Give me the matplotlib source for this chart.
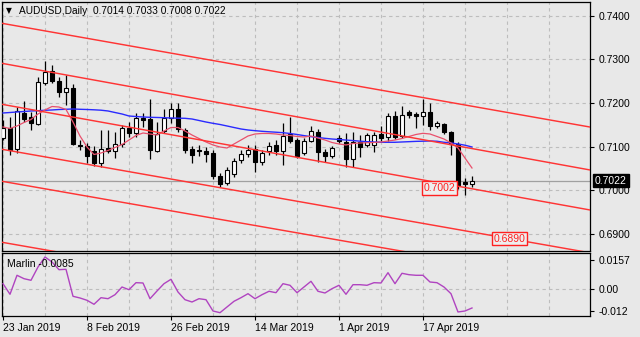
import matplotlib
matplotlib.use('Agg')
import matplotlib.pyplot as plt
import numpy as np
from matplotlib.transforms import blended_transform_factory

plt.rcParams['font.family'] = ['Liberation Sans', 'DejaVu Sans']

# ---- data ----
opens = [0.7119, 0.7144, 0.7094, 0.7177, 0.7167, 0.7152, 0.7245, 0.7274, 0.7251, 0.7225,
         0.7234, 0.7104, 0.7102, 0.7090, 0.7063, 0.7096, 0.7090, 0.7106, 0.7142, 0.7131,
         0.7166, 0.7163, 0.7091, 0.7137, 0.7166, 0.7186, 0.7138, 0.7094, 0.7092, 0.7090,
         0.7085, 0.7033, 0.7016, 0.7037, 0.7069, 0.7083, 0.7095, 0.7066, 0.7089, 0.7104,
         0.7089, 0.7128, 0.7115, 0.7085, 0.7113, 0.7134, 0.7088, 0.7079, 0.7121, 0.7110,
         0.7072, 0.7110, 0.7105, 0.7105, 0.7129, 0.7123, 0.7171, 0.7125, 0.7180, 0.7174,
         0.7171, 0.7179, 0.7148, 0.7151, 0.7134, 0.7106, 0.7020, 0.7014]
highs = [0.7161, 0.7167, 0.7192, 0.7205, 0.7180, 0.7259, 0.7297, 0.7287, 0.7259, 0.7265,
         0.7244, 0.7115, 0.7108, 0.7102, 0.7138, 0.7138, 0.7134, 0.7150, 0.7157, 0.7178,
         0.7177, 0.7209, 0.7157, 0.7186, 0.7200, 0.7200, 0.7142, 0.7102, 0.7103, 0.7100,
         0.7092, 0.7039, 0.7054, 0.7073, 0.7092, 0.7104, 0.7104, 0.7092, 0.7111, 0.7115,
         0.7154, 0.7169, 0.7121, 0.7119, 0.7148, 0.7140, 0.7095, 0.7102, 0.7127, 0.7131,
         0.7133, 0.7127, 0.7131, 0.7133, 0.7148, 0.7177, 0.7182, 0.7194, 0.7184, 0.7180,
         0.7209, 0.7200, 0.7159, 0.7155, 0.7136, 0.7110, 0.7028, 0.7033]
lows = [0.7115, 0.7081, 0.7085, 0.7157, 0.7138, 0.7150, 0.7242, 0.7245, 0.7215, 0.7196,
        0.7104, 0.7092, 0.7063, 0.7056, 0.7054, 0.7085, 0.7073, 0.7099, 0.7123, 0.7123,
        0.7146, 0.7071, 0.7088, 0.7131, 0.7155, 0.7133, 0.7085, 0.7063, 0.7079, 0.7065,
        0.7026, 0.7008, 0.7012, 0.7031, 0.7063, 0.7077, 0.7041, 0.7058, 0.7081, 0.7081,
        0.7058, 0.7108, 0.7073, 0.7081, 0.7111, 0.7064, 0.7064, 0.7075, 0.7108, 0.7054,
        0.7054, 0.7077, 0.7100, 0.7088, 0.7113, 0.7112, 0.7118, 0.7121, 0.7165, 0.7142,
        0.7150, 0.7138, 0.7144, 0.7128, 0.7081, 0.7004, 0.6990, 0.7008]
closes = [0.7144, 0.7092, 0.7182, 0.7164, 0.7155, 0.7248, 0.7272, 0.7251, 0.7226, 0.7235,
          0.7106, 0.7102, 0.7079, 0.7063, 0.7094, 0.7089, 0.7106, 0.7142, 0.7131, 0.7165,
          0.7162, 0.7092, 0.7128, 0.7166, 0.7186, 0.7141, 0.7092, 0.7081, 0.7091, 0.7083,
          0.7033, 0.7014, 0.7047, 0.7067, 0.7083, 0.7092, 0.7066, 0.7085, 0.7102, 0.7089,
          0.7125, 0.7113, 0.7079, 0.7113, 0.7136, 0.7087, 0.7079, 0.7096, 0.7113, 0.7072,
          0.7110, 0.7100, 0.7127, 0.7127, 0.7121, 0.7171, 0.7123, 0.7173, 0.7173, 0.7171,
          0.7179, 0.7148, 0.7154, 0.7134, 0.7106, 0.7012, 0.7014, 0.7022]

ma_blue = [0.71773, 0.71784, 0.71796, 0.71807, 0.71819, 0.71826, 0.71835, 0.71842, 0.71853, 0.71858,
           0.71865, 0.71858, 0.71853, 0.71846, 0.71837, 0.71819, 0.71784, 0.71750, 0.71704, 0.71692,
           0.71681, 0.71674, 0.71670, 0.71665, 0.71658, 0.71654, 0.71651, 0.71635, 0.71601, 0.71566,
           0.71536, 0.71509, 0.71475, 0.71440, 0.71406, 0.71383, 0.71367, 0.71353, 0.71342, 0.71332,
           0.71321, 0.71303, 0.71280, 0.71254, 0.71229, 0.71211, 0.71192, 0.71176, 0.71165, 0.71153,
           0.71140, 0.71126, 0.71115, 0.71108, 0.71101, 0.71101, 0.71101, 0.71108, 0.71115, 0.71122,
           0.71126, 0.71131, 0.71124, 0.71101, 0.71085, 0.71062, 0.71034, 0.70993]
ma_red = [0.71452, 0.71417, 0.71475, 0.71555, 0.71624, 0.71750, 0.71842, 0.71922, 0.71910, 0.71853,
          0.71566, 0.71245, 0.70993, 0.70821, 0.70855, 0.70913, 0.70981, 0.71050, 0.71153, 0.71257,
          0.71314, 0.71291, 0.71268, 0.71360, 0.71440, 0.71440, 0.71360, 0.71268, 0.71188, 0.71108,
          0.71039, 0.70993, 0.70970, 0.71062, 0.71153, 0.71245, 0.71291, 0.71303, 0.71303, 0.71291,
          0.71268, 0.71257, 0.71234, 0.71222, 0.71245, 0.71199, 0.71153, 0.71096, 0.71062, 0.71039,
          0.71073, 0.71085, 0.71091, 0.71096, 0.71108, 0.71130, 0.71153, 0.71188, 0.71234, 0.71280,
          0.71307, 0.71291, 0.71234, 0.71176, 0.71085, 0.70970, 0.70740, 0.70511]
marlin = [0.00269, -0.00301, 0.00721, 0.00538, 0.00452, 0.01167, 0.01705, 0.01436, 0.01022, 0.01044,
          -0.00409, -0.00500, -0.00624, -0.00839, -0.00484, -0.00538, -0.00323, 0.00091, -0.00054, 0.00323,
          0.00307, -0.00538, -0.00124, 0.00269, 0.00506, -0.00178, -0.00592, -0.00716, -0.00538, -0.00592,
          -0.01200, -0.01291, -0.00984, -0.00678, -0.00484, -0.00269, -0.00538, -0.00323, -0.00140, -0.00215,
          0.00269, 0.00183, -0.00215, 0.00091, 0.00398, -0.00140, -0.00231, 0.00000, 0.00183, -0.00301,
          0.00215, 0.00215, 0.00183, 0.00323, 0.00307, 0.00861, 0.00269, 0.00828, 0.00753, 0.00721,
          0.00721, 0.00360, 0.00323, 0.00091, -0.00269, -0.01253, -0.01200, -0.01038]

date_labels = ['23 Jan 2019', '8 Feb 2019', '26 Feb 2019', '14 Mar 2019', '1 Apr 2019', '17 Apr 2019']
date_label_bars = [0, 12, 24, 36, 48, 60]

# channel lines: price at bar 0 and at bar 83
channel_bars = [0, 83]
channel_start = [0.73826, 0.72908, 0.71968, 0.70936, 0.70202, 0.68803]
channel_end = [0.71475, 0.70491, 0.69573, 0.68590, 0.67874, 0.66475]

price_ticks = [0.69, 0.70, 0.71, 0.72, 0.73, 0.74]
marlin_ticks = [0.0157, 0.0, -0.012]
marlin_tick_labels = ['0.0157', '0.00', '-0.012']
last_price = 0.7022
ohlc_title = 'AUDUSD,Daily  0.7014 0.7033 0.7008 0.7022'
marlin_title = 'Marlin -0.0085'
level_labels = ['0.7002', '0.6890']
level_prices = [0.7005, 0.6889]
level_bars = [64.6, 70.1]

# ---- figure ----
BG = '#e8e8e8'
W, H = 640, 337
fig = plt.figure(figsize=(W / 100, H / 100), dpi=100, facecolor=BG)
ax = fig.add_axes([2 / W, 1 - 251 / H, 588 / W, 249 / H], facecolor=BG)
axm = fig.add_axes([2 / W, 1 - 316 / H, 588 / W, 63 / H], facecolor=BG)

xlim = (-0.143, 83.86)
ax.set_xlim(*xlim)
ax.set_ylim(0.68607, 0.74319)
axm.set_xlim(*xlim)
axm.set_ylim(-0.01469, 0.0192)

grid_kw = dict(color='#bdbdbd', lw=0.8, linestyle=(0, (3, 3)), zorder=0)
n = len(closes)
xs = np.arange(n)
for b in range(0, int(xlim[1]) + 1, 6):
    ax.axvline(b, **grid_kw)
    axm.axvline(b, **grid_kw)
for p in price_ticks:
    ax.axhline(p, **grid_kw)
axm.axhline(0.0, **grid_kw)

# bid line
ax.axhline(last_price, color='#a0a0a0', lw=0.9, zorder=1)

# candles
o = np.array(opens); h = np.array(highs); l = np.array(lows); c = np.array(closes)
ax.vlines(xs, l, h, color='black', lw=0.9, zorder=2)
bottoms = np.minimum(o, c)
heights = np.maximum(np.abs(c - o), 0.00002)
colors = ['white' if cc >= oo else 'black' for oo, cc in zip(o, c)]
ax.bar(xs, heights, bottom=bottoms, width=0.62, color=colors, edgecolor='black',
       linewidth=0.8, zorder=3)

# moving averages
ax.plot(xs, ma_blue, color='#2a2aff', lw=1.0, zorder=4)
ax.plot(xs, ma_red, color='#e8506c', lw=0.9, zorder=4)

# channel lines
xx = np.array([xlim[0] - 1, xlim[1] + 1])
for s, e in zip(channel_start, channel_end):
    slope = (e - s) / (channel_bars[1] - channel_bars[0])
    ax.plot(xx, s + slope * (xx - channel_bars[0]), color='#ff3434', lw=1.05, zorder=5,
            solid_capstyle='butt')

# level labels
for txt, pr, bx in zip(level_labels, level_prices, level_bars):
    ha = 'right' if bx < 65 else 'left'
    ax.text(bx, pr, txt, color='#ff2020', fontsize=7.5, ha=ha, va='center', zorder=6,
            bbox=dict(facecolor='#eeeeee', edgecolor='#ff2020', lw=1.0, pad=1.2))

# axes styling
for a in (ax, axm):
    for s in a.spines.values():
        s.set_color('black'); s.set_linewidth(0.9)
    a.yaxis.tick_right()
    a.tick_params(axis='y', direction='out', length=3, width=0.8, labelsize=7.5,
                  pad=3, colors='black')

ax.set_xticks([])
ax.set_yticks(price_ticks)
ax.set_yticklabels(['%.4f' % p for p in price_ticks])

axm.set_yticks(marlin_ticks)
axm.set_yticklabels(marlin_tick_labels)
axm.set_xticks(date_label_bars)
axm.set_xticklabels(date_labels)
axm.tick_params(axis='x', direction='out', length=3, width=0.8, labelsize=7.5, pad=2)
for t in axm.get_xticklabels():
    t.set_ha('left')

# marlin line
axm.plot(xs, marlin, color='#b044c0', lw=1.0, zorder=3)

# last price tag
tr = blended_transform_factory(ax.transAxes, ax.transData)
ax.text(1.0 + 5 / 588, last_price, '%.4f' % last_price, transform=tr, color='white',
        fontsize=7.5, ha='left', va='center', zorder=10,
        bbox=dict(facecolor='black', edgecolor='black', pad=1.3))

# titles
ax.text(4 / 588, 1 - 9 / 249, '\u25bc', transform=ax.transAxes, fontsize=5.5,
        ha='left', va='center', color='black', family=['DejaVu Sans'])
ax.text(17 / 588, 1 - 9 / 249, ohlc_title, transform=ax.transAxes, fontsize=7.3,
        ha='left', va='center', color='black', zorder=10)
axm.text(5 / 588, 1 - 11 / 63, marlin_title, transform=axm.transAxes, fontsize=7.5,
         ha='left', va='center', color='black', zorder=10)

fig.savefig('out.png', dpi=100, facecolor=BG)
